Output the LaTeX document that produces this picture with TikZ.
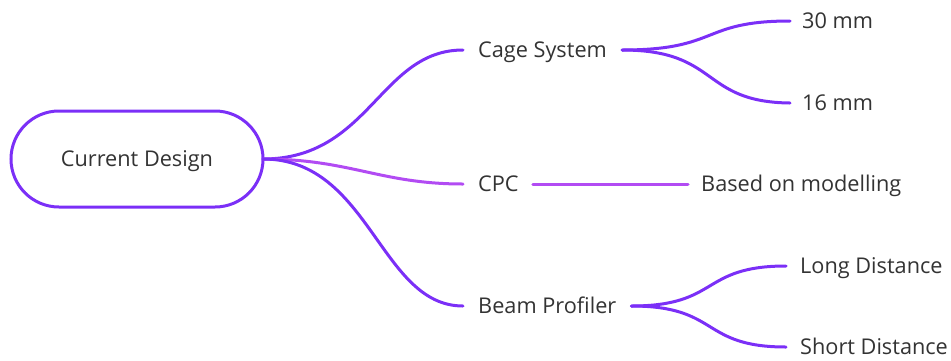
\documentclass[tikz,border=0pt]{standalone}
\usepackage{fontspec}
\setmainfont{Open Sans}
\definecolor{vio}{HTML}{7B2FF7}
\definecolor{mag}{HTML}{B24BF3}
\definecolor{txt}{HTML}{333333}
\begin{document}
\begin{tikzpicture}[x=1pt,y=-1pt,
  lbl/.style={inner sep=0pt,text=txt,font=\fontsize{21.7}{26}\selectfont,anchor=west,text height=15.5pt,text depth=0pt},
  conn/.style={draw=vio,line width=3pt,line cap=round},
  conn2/.style={draw=mag,line width=3pt,line cap=round}]
\useasboundingbox (0,0) rectangle (951,360);
\draw[draw=vio,line width=3pt,rounded corners=48pt] (11,111) rectangle (263,207);
\node[lbl,anchor=center] (root) at (137,159) {Current Design};
\coordinate (r) at (263,159);
\node[lbl] (cage) at (478,50) {Cage System};
\node[lbl] (cpc) at (478,184) {CPC};
\node[lbl] (beam) at (478,306) {Beam Profiler};
\node[lbl] (m30) at (802,21) {30 mm};
\node[lbl] (m16) at (802,103) {16 mm};
\node[lbl] (mod) at (701,184) {Based on modelling};
\node[lbl] (long) at (800,266) {Long Distance};
\node[lbl] (short) at (800,347) {Short Distance};
% connectors
\draw[conn] (r) .. controls (370,159) and (380,50) .. ([xshift=-15pt]cage.west);
\draw[conn2] (r) .. controls (350,159) and (380,184) .. ([xshift=-15pt]cpc.west);
\draw[conn] (r) .. controls (370,159) and (380,306) .. ([xshift=-15pt]beam.west);
\draw[conn] ([xshift=15pt]cage.east) .. controls (720,50) and (700,21) .. ([xshift=-12pt]m30.west);
\draw[conn] ([xshift=15pt]cage.east) .. controls (720,50) and (700,102) .. ([xshift=-12pt]m16.west);
\draw[conn2] ([xshift=14pt]cpc.east) -- ([xshift=-13pt]mod.west);
\draw[conn] ([xshift=15pt]beam.east) .. controls (720,306) and (700,266) .. ([xshift=-14pt]long.west);
\draw[conn] ([xshift=15pt]beam.east) .. controls (720,306) and (700,347) .. ([xshift=-14pt]short.west);
\end{tikzpicture}
\end{document}
